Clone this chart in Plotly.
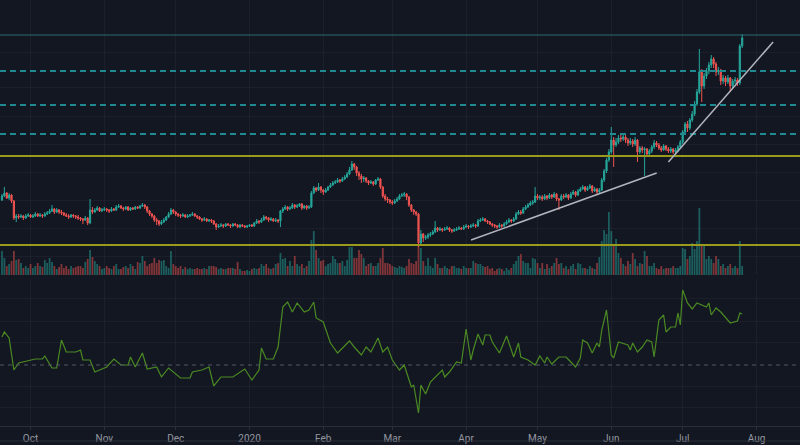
import plotly.graph_objects as go
import pandas as pd

# ---------------- data ----------------
start_date = "2019-09-19"
first_open = 100

close = [
    104, 107, 102, 105, 99, 82, 84, 83, 84, 82,
    84, 85, 83, 84, 86, 84, 85, 84, 86, 87,
    89, 91, 88, 90, 88, 87, 85, 84, 83, 85,
    84, 83, 82, 81, 80, 82, 77, 90, 88, 90,
    92, 89, 90, 91, 90, 89, 91, 90, 93, 94,
    92, 91, 93, 90, 92, 91, 93, 92, 94, 95,
    93, 89, 86, 84, 80, 79, 76, 78, 80, 83,
    86, 90, 88, 86, 85, 84, 85, 83, 84, 85,
    86, 84, 83, 81, 80, 81, 79, 80, 79, 76,
    73, 74, 75, 74, 76, 75, 74, 76, 75, 73,
    75, 74, 73, 74, 75, 74, 77, 79, 78, 80,
    83, 82, 80, 81, 79, 80, 79, 89, 91, 93,
    91, 92, 95, 93, 94, 96, 92, 94, 92, 93,
    107, 112, 110, 113, 110, 108, 110, 113, 115, 117,
    118, 120, 119, 121, 123, 126, 130, 136, 133, 127,
    124, 121, 122, 119, 117, 118, 116, 120, 121, 113,
    104, 101, 100, 98, 97, 99, 101, 104, 105, 106,
    103, 95, 90, 88, 86, 57, 66, 62, 63, 65,
    66, 68, 72, 70, 71, 70, 71, 72, 70, 69,
    70, 71, 72, 71, 73, 74, 73, 74, 75, 74,
    79, 80, 81, 79, 78, 76, 75, 74, 73, 75,
    74, 76, 78, 80, 79, 81, 86, 88, 87, 91,
    93, 95, 97, 98, 104, 102, 103, 101, 104, 102,
    105, 103, 106, 101, 100, 104, 103, 105, 102, 106,
    108, 105, 109, 111, 113, 110, 112, 114, 109, 111,
    108, 110, 120, 129, 140, 148, 160, 155, 158, 162,
    161, 163, 160, 157, 159, 156, 160, 148, 152, 150,
    151, 146, 149, 153, 157, 155, 152, 150, 154, 151,
    149, 151, 148, 150, 153, 158, 168, 176, 172, 180,
    186, 196, 208, 228, 214, 224, 229, 235, 241, 236,
    228, 230, 219, 222, 218, 222, 214, 219, 220, 217,
    254, 262,
]

high = [
    106, 113, 108, 107, 106, 100, 86, 86, 86, 85,
    86, 87, 86, 86, 88, 87, 87, 86, 88, 89,
    91, 95, 92, 92, 91, 90, 88, 87, 86, 86,
    86, 85, 85, 83, 82, 84, 83, 101, 93, 92,
    94, 93, 92, 93, 92, 91, 93, 92, 95, 96,
    95, 93, 94, 94, 93, 93, 94, 94, 95, 97,
    96, 94, 90, 87, 85, 82, 80, 80, 82, 84,
    88, 92, 91, 89, 87, 86, 87, 86, 86, 86,
    88, 87, 85, 84, 82, 83, 82, 81, 81, 80,
    77, 76, 77, 76, 77, 77, 76, 77, 77, 76,
    76, 76, 75, 75, 76, 76, 78, 81, 80, 82,
    85, 84, 83, 83, 82, 82, 81, 90, 93, 95,
    94, 94, 97, 96, 96, 97, 97, 95, 95, 95,
    109, 114, 113, 117, 114, 111, 112, 114, 117, 119,
    120, 122, 121, 123, 125, 128, 133, 139, 137, 134,
    129, 126, 124, 123, 120, 120, 119, 121, 123, 122,
    114, 106, 103, 101, 100, 101, 103, 106, 107, 108,
    107, 104, 96, 91, 89, 87, 70, 67, 65, 67,
    68, 70, 79, 73, 73, 72, 73, 74, 73, 71,
    72, 73, 74, 73, 75, 76, 75, 76, 77, 76,
    81, 82, 83, 82, 80, 79, 77, 76, 75, 77,
    76, 78, 80, 82, 81, 83, 88, 90, 90, 93,
    95, 97, 99, 100, 113, 106, 105, 105, 106, 105,
    107, 106, 108, 107, 102, 106, 106, 107, 106, 108,
    110, 109, 111, 113, 115, 114, 114, 116, 115, 113,
    112, 112, 122, 131, 142, 151, 173, 163, 162, 165,
    166, 167, 165, 162, 162, 161, 163, 161, 154, 154,
    153, 152, 151, 155, 160, 159, 157, 154, 156, 155,
    153, 153, 152, 152, 155, 160, 170, 178, 179, 182,
    189, 199, 211, 251, 231, 227, 232, 238, 245, 243,
    238, 233, 231, 225, 224, 225, 223, 221, 223, 222,
    256, 266,
]

low = [
    99, 103, 101, 100, 97, 80, 78, 81, 82, 80,
    81, 83, 82, 82, 83, 83, 83, 82, 83, 85,
    86, 88, 86, 87, 86, 85, 84, 83, 81, 82,
    82, 81, 80, 79, 76, 79, 75, 76, 86, 87,
    89, 88, 88, 89, 88, 87, 88, 89, 89, 92,
    91, 89, 90, 89, 89, 90, 90, 91, 91, 93,
    91, 87, 84, 82, 78, 75, 74, 75, 77, 79,
    82, 85, 86, 84, 83, 82, 83, 82, 82, 83,
    84, 83, 81, 80, 78, 79, 78, 78, 77, 75,
    70, 72, 73, 72, 73, 74, 72, 73, 74, 72,
    72, 73, 72, 72, 73, 73, 73, 76, 76, 77,
    79, 80, 78, 79, 78, 78, 77, 73, 87, 90,
    89, 90, 91, 91, 92, 93, 90, 91, 90, 91,
    92, 106, 108, 109, 107, 105, 107, 109, 112, 114,
    116, 117, 117, 118, 120, 122, 125, 129, 130, 124,
    120, 117, 118, 117, 115, 116, 114, 115, 119, 111,
    102, 99, 97, 96, 95, 96, 98, 100, 103, 103,
    100, 93, 88, 85, 84, 53, 55, 58, 60, 61,
    63, 65, 67, 68, 69, 68, 69, 70, 68, 67,
    68, 69, 70, 70, 70, 72, 71, 72, 73, 72,
    73, 78, 79, 78, 76, 75, 73, 72, 71, 72,
    72, 73, 75, 77, 77, 78, 80, 85, 85, 86,
    90, 92, 94, 95, 97, 100, 100, 99, 100, 100,
    101, 101, 102, 99, 90, 99, 101, 102, 100, 101,
    105, 103, 104, 108, 110, 108, 109, 111, 107, 108,
    106, 107, 109, 118, 127, 138, 146, 133, 153, 156,
    158, 159, 157, 154, 155, 153, 154, 138, 146, 147,
    124, 144, 144, 147, 151, 153, 150, 148, 149, 149,
    147, 147, 146, 146, 148, 151, 156, 166, 168, 170,
    178, 184, 194, 206, 198, 211, 221, 226, 232, 232,
    224, 225, 215, 216, 214, 216, 208, 212, 216, 214,
    215, 252,
]

volume = [
    24, 17, 9, 11, 14, 24, 15, 16, 12, 7,
    9, 7, 11, 7, 9, 12, 9, 8, 15, 12,
    17, 13, 9, 6, 8, 11, 7, 9, 6, 9,
    7, 8, 9, 9, 7, 13, 16, 25, 18, 14,
    11, 9, 6, 7, 9, 7, 6, 9, 11, 6,
    6, 8, 9, 7, 11, 9, 6, 13, 12, 19,
    14, 9, 11, 12, 17, 12, 15, 14, 15, 9,
    7, 24, 11, 9, 7, 9, 6, 8, 6, 7,
    6, 6, 7, 6, 6, 7, 6, 9, 9, 9,
    8, 6, 7, 6, 6, 7, 7, 7, 6, 13,
    6, 4, 4, 5, 4, 6, 7, 6, 7, 11,
    9, 11, 7, 6, 7, 11, 12, 22, 16, 17,
    9, 14, 9, 19, 11, 9, 11, 7, 9, 14,
    35, 44, 25, 17, 14, 15, 9, 11, 12, 19,
    16, 12, 12, 14, 9, 15, 28, 28, 17, 17,
    25, 21, 17, 9, 11, 12, 9, 9, 12, 17,
    27, 12, 12, 11, 9, 8, 7, 9, 8, 7,
    9, 16, 12, 11, 14, 29, 27, 14, 9, 17,
    9, 7, 17, 11, 7, 7, 9, 7, 6, 9,
    9, 7, 7, 6, 9, 7, 7, 7, 14, 12,
    11, 11, 9, 8, 9, 6, 7, 4, 6, 7,
    6, 4, 7, 5, 7, 11, 14, 19, 21, 14,
    12, 12, 7, 17, 16, 12, 7, 12, 6, 11,
    7, 9, 12, 17, 11, 12, 7, 9, 6, 9,
    11, 6, 12, 11, 7, 7, 6, 9, 7, 6,
    12, 18, 34, 45, 41, 63, 44, 31, 36, 22,
    17, 11, 9, 14, 11, 22, 16, 9, 12, 11,
    24, 19, 9, 9, 12, 7, 6, 9, 6, 7,
    7, 7, 9, 7, 7, 9, 27, 26, 16, 19,
    32, 26, 34, 67, 31, 29, 16, 19, 16, 12,
    19, 16, 9, 11, 7, 9, 11, 7, 9, 7,
    34, 9,
]

# oscillator (lower pane): day offset from start_date and value
ind_day = [0, 1, 3, 5, 7, 10, 14, 17, 18, 21,
           23, 25, 27, 31, 33, 34, 37, 39, 41, 44,
           47, 50, 53, 54, 56, 59, 61, 65, 67, 70,
           75, 79, 80, 84, 87, 89, 90, 92, 97, 102,
           105, 108, 109, 111, 114, 116, 118, 120, 122, 124,
           127, 129, 131, 132, 135, 138, 141, 143, 146, 148,
           151, 153, 155, 158, 160, 162, 164, 167, 169, 172,
           173, 175, 176, 178, 180, 185, 186, 188, 191, 193,
           195, 197, 198, 200, 202, 203, 205, 206, 209, 212,
           215, 217, 218, 221, 224, 226, 228, 229, 231, 234,
           237, 239, 241, 243, 244, 246, 248, 250, 251, 252,
           254, 256, 257, 259, 263, 264, 265, 267, 269, 271,
           273, 274, 276, 278, 279, 281, 283, 284, 285, 286,
           288, 290, 292, 296, 297, 298, 300, 302, 306, 309,
           310, 311]
ind_val = [28, 33, 27, -5, 2, 4, 6, 6, 9, -3,
           -3, 25, 13, 13, 15, 5, 5, -7, -5, -2,
           6, 0, 0, 8, -2, 12, -4, -2, -12, -3,
           -13, -13, -7, -5, -2, -21, -18, -12, -12, -4,
           -15, -5, 17, 6, 6, 18, 58, 63, 53, 62,
           53, 55, 63, 47, 43, 22, 12, 17, 24, 18,
           10, 18, 13, 27, 13, 18, 5, -5, 0, -22,
           -20, -48, -20, -29, -17, -5, -12, -7, 3, 2,
           36, 5, 15, 31, 20, 30, 30, 23, 12, 29,
           8, 22, 8, 5, 0, 9, 2, 8, 1, 8,
           8, 3, -2, 7, 25, 22, 12, 22, 18, 35,
           55, 10, 7, 23, 20, 15, 22, 13, 18, 25,
           23, 8, 45, 50, 33, 38, 38, 52, 40, 75,
           62, 56, 62, 58, 62, 50, 57, 53, 42, 44,
           52, 51]

yellow_levels = [144, 55]
teal_dashed_levels = [229, 195, 166]
teal_top_level = 265

trend_x0 = ["2020-04-03 02:00", "2020-06-25 00:00"]
trend_y0 = [60, 138]
trend_x1 = ["2020-06-20 02:00", "2020-08-08 00:00"]
trend_y1 = [127, 258]

tick_dates = ["2019-10-01", "2019-11-01", "2019-12-01", "2020-01-01", "2020-02-01",
              "2020-03-01", "2020-04-01", "2020-05-01", "2020-06-01", "2020-07-01",
              "2020-08-01"]
tick_text = ["Oct", "Nov", "Dec", "2020", "Feb", "Mar", "Apr", "May", "Jun", "Jul", "Aug"]

# ---------------- build ----------------
dates = pd.date_range(start_date, periods=len(close), freq="D")
opens = [first_open] + close[:-1]
ind_dates = [pd.Timestamp(start_date) + pd.Timedelta(days=d) for d in ind_day]

UP = "#26a69a"
DOWN = "#ef5350"
BG = "#131722"
GRID = "rgba(42,46,57,0.4)"

vol_colors = ["rgba(38,166,154,0.5)" if c >= o else "rgba(239,83,80,0.5)"
              for o, c in zip(opens, close)]

fig = go.Figure()

fig.add_trace(go.Bar(
    x=dates, y=volume, marker=dict(color=vol_colors, line=dict(width=0)),
    xaxis="x", yaxis="y", hoverinfo="skip"))

fig.add_trace(go.Candlestick(
    x=dates, open=opens, high=high, low=low, close=close,
    xaxis="x", yaxis="y2", whiskerwidth=0,
    increasing=dict(line=dict(color=UP, width=1), fillcolor=UP),
    decreasing=dict(line=dict(color=DOWN, width=1), fillcolor=DOWN)))

fig.add_trace(go.Scatter(
    x=ind_dates, y=ind_val, mode="lines",
    line=dict(color="#4b8a22", width=1.2),
    xaxis="x", yaxis="y3", hoverinfo="skip"))

shapes = []
for lv in yellow_levels:
    shapes.append(dict(type="line", xref="paper", x0=0, x1=1, yref="y2", y0=lv, y1=lv,
                       line=dict(color="#9a9a1c", width=2)))
for lv in teal_dashed_levels:
    shapes.append(dict(type="line", xref="paper", x0=0, x1=1, yref="y2", y0=lv, y1=lv,
                       line=dict(color="#208a93", width=2, dash="6px,4px")))
shapes.append(dict(type="line", xref="paper", x0=0, x1=1, yref="y2",
                   y0=teal_top_level, y1=teal_top_level,
                   line=dict(color="#2b6d70", width=1)))
for xa, ya, xb, yb in zip(trend_x0, trend_y0, trend_x1, trend_y1):
    shapes.append(dict(type="line", xref="x", yref="y2", x0=xa, y0=ya, x1=xb, y1=yb,
                       line=dict(color="#b2b5be", width=1.5)))
shapes.append(dict(type="line", xref="paper", x0=0, x1=1, yref="y3", y0=0, y1=0,
                   line=dict(color="#555965", width=1, dash="4px,4px")))
shapes.append(dict(type="line", xref="paper", x0=0, x1=1, yref="paper", y0=-0.0352, y1=-0.0352,
                   line=dict(color="#2a2e39", width=1)))

fig.update_layout(
    width=800, height=445,
    margin=dict(l=0, r=0, t=0, b=19),
    paper_bgcolor=BG, plot_bgcolor=BG,
    showlegend=False, bargap=0.25,
    font=dict(family="Roboto, Liberation Sans, sans-serif", size=10, color="#9598a1"),
    shapes=shapes,
    xaxis=dict(type="date", domain=[0, 1], anchor="y3",
               range=["2019-09-18 04:00", "2020-08-19 07:00"],
               tickvals=tick_dates, ticktext=tick_text,
               tickfont=dict(size=10, color="#9598a1"),
               showgrid=True, gridcolor=GRID, gridwidth=1,
               showline=True, linecolor="#2a2e39", linewidth=1,
               ticks="outside", ticklen=3, tickcolor="#2a2e39",
               zeroline=False, rangeslider=dict(visible=False), fixedrange=True),
    yaxis=dict(domain=[0.3545, 1], range=[0, 275], visible=False, fixedrange=True),
    yaxis2=dict(domain=[0.3545, 1], overlaying="y", range=[25, 300], anchor="x",
                showticklabels=False, showgrid=True, gridcolor=GRID,
                tickvals=[248, 212, 183, 155, 127, 99, 71, 43],
                zeroline=False, fixedrange=True),
    yaxis3=dict(domain=[0, 0.3451], range=[-61, 86], anchor="x",
                showticklabels=False, showgrid=True, gridcolor=GRID,
                tickvals=[66, 43, 22, -22, -43],
                zeroline=False, fixedrange=True),
)

fig.write_html("out.html")
